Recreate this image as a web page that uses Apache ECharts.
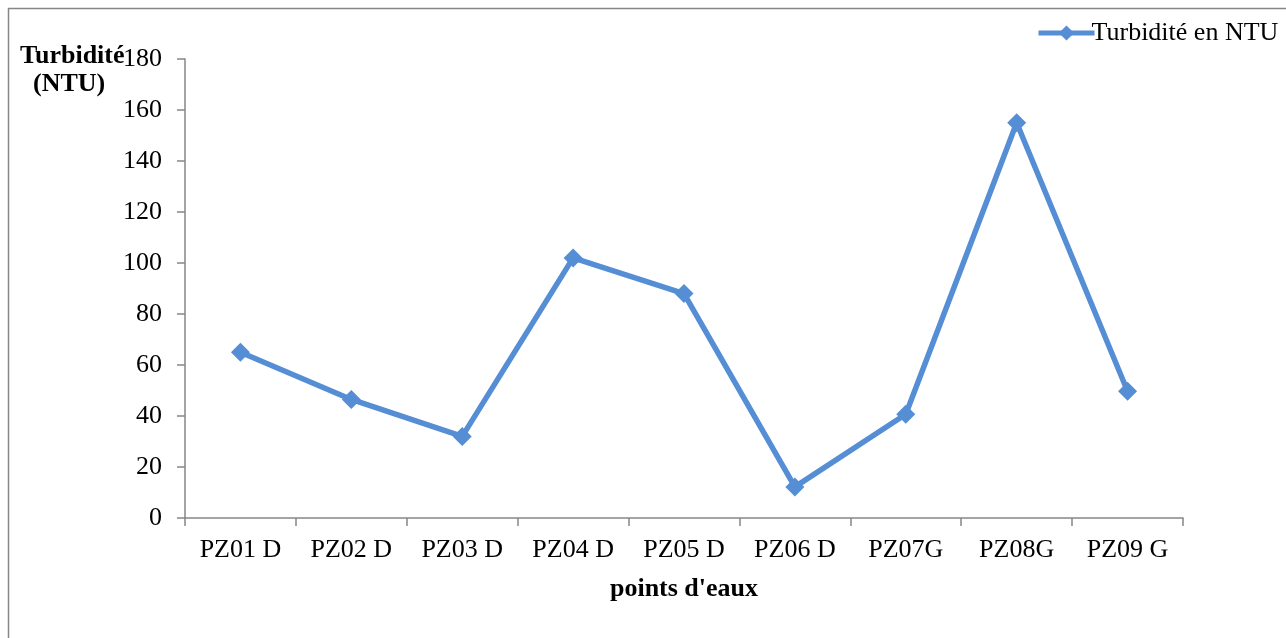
<!DOCTYPE html>
<html>
<head>
<meta charset="utf-8">
<script src="https://cdn.jsdelivr.net/npm/echarts@6/dist/echarts.min.js"></script>
<style>
  html, body { margin: 0; padding: 0; background: #ffffff; }
  #chart { width: 1286px; height: 638px; }
</style>
</head>
<body>
<div id="chart"></div>
<script>
// Points de prélèvement et turbidité mesurée (NTU)
const categories = ['PZ01 D', 'PZ02 D', 'PZ03 D', 'PZ04 D', 'PZ05 D', 'PZ06 D', 'PZ07G', 'PZ08G', 'PZ09 G'];
const turbidite = [65, 46.5, 32, 102, 88, 12.2, 40.7, 155, 49.7];
const seriesName = 'Turbidité en NTU';
const yTitle = ['Turbidité', '(NTU)'];
const xTitle = "points d'eaux";

const serif = '"Liberation Serif", "Times New Roman", serif';
const axisGrey = '#868686';
const lineBlue = '#558ed5';

const chart = echarts.init(document.getElementById('chart'), null, { renderer: 'canvas' });

chart.setOption({
  backgroundColor: '#ffffff',
  animation: false,
  textStyle: { fontFamily: serif, color: '#000' },
  grid: { left: 185, right: 103, top: 59, bottom: 120, containLabel: false },
  legend: {
    left: 1031,
    top: 15,
    itemWidth: 56,
    itemHeight: 19,
    itemGap: 4,
    data: [seriesName],
    lineStyle: { width: 5 },
    textStyle: { fontFamily: serif, fontSize: 26, color: '#000', padding: [0, 0, 0, -8] }
  },
  xAxis: {
    type: 'category',
    data: categories,
    boundaryGap: true,
    axisLine: { lineStyle: { color: axisGrey, width: 1.5 } },
    axisTick: { show: true, length: 8, alignWithLabel: false, lineStyle: { color: axisGrey, width: 1.5 } },
    axisLabel: { fontFamily: serif, fontSize: 26, color: '#000', margin: 19 },
    splitLine: { show: false },
    name: xTitle,
    nameLocation: 'middle',
    nameGap: 58,
    nameTextStyle: { fontFamily: serif, fontSize: 26, fontWeight: 'bold', color: '#000' }
  },
  yAxis: {
    type: 'value',
    min: 0,
    max: 180,
    interval: 20,
    axisLine: { show: true, lineStyle: { color: axisGrey, width: 1.5 } },
    axisTick: { show: true, length: 8, lineStyle: { color: axisGrey, width: 1.5 } },
    axisLabel: { fontFamily: serif, fontSize: 26, color: '#000', margin: 23 },
    splitLine: { show: false }
  },
  graphic: [
    {
      type: 'rect',
      silent: true,
      z: -1,
      shape: { x: 8.5, y: 8.5, width: 1400, height: 800 },
      style: { fill: 'none', stroke: axisGrey, lineWidth: 1.5 }
    },
    {
      type: 'text',
      x: 20,
      y: 56,
      style: {
        text: yTitle[0],
        font: 'bold 26px ' + serif,
        fill: '#000',
        verticalAlign: 'middle'
      }
    },
    {
      type: 'text',
      x: 33,
      y: 84,
      style: {
        text: yTitle[1],
        font: 'bold 26px ' + serif,
        fill: '#000',
        verticalAlign: 'middle'
      }
    }
  ],
  series: [
    {
      name: seriesName,
      type: 'line',
      data: turbidite,
      symbol: 'diamond',
      symbolSize: 19,
      showAllSymbol: true,
      lineStyle: { color: lineBlue, width: 5.5 },
      itemStyle: { color: lineBlue },
      emphasis: { disabled: true }
    }
  ]
});
</script>
</body>
</html>
